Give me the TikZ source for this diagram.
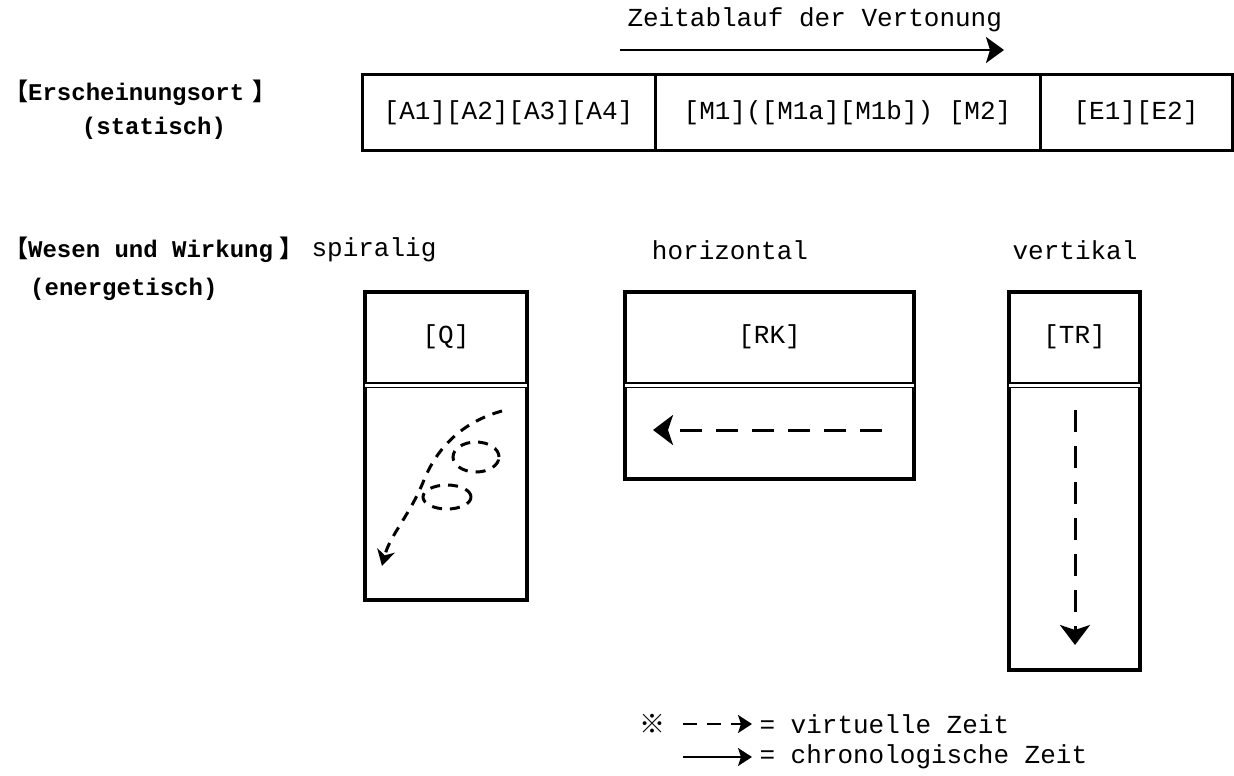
\documentclass[tikz,border=0pt]{standalone}
\usepackage{fontspec}
\setmainfont{Liberation Mono}
\newfontfamily\cjk{Noto Sans CJK JP}
\usetikzlibrary{positioning,arrows.meta}

\begin{document}
\begin{tikzpicture}[x=1pt, y=-1pt, node distance=0pt,
  every node/.style={font=\fontsize{26}{30}\selectfont},
  head/.style={font=\fontsize{24}{28}\selectfont\bfseries, anchor=west, inner sep=0pt},
  cell/.style={draw, line width=3pt, minimum height=75pt, inner sep=0pt, outer sep=0pt},
  col/.style={draw, line width=3.5pt, anchor=north west, inner sep=0pt, outer sep=0pt},
  sep/.style={double, double distance=3pt, line width=1.6pt},
  virt/.style={line width=3pt, dash pattern=on 22pt off 14pt, -{Stealth[length=20pt, width=30pt, inset=5pt]}},
  spir/.style={line width=3pt, dash pattern=on 10pt off 8pt},
  chrono/.style={line width=2.4pt, -{Stealth[length=18pt, width=26pt, inset=4pt]}},
  legv/.style={line width=2.4pt, dash pattern=on 14pt off 10pt, -{Stealth[length=14pt, width=18pt, inset=3pt]}},
  legc/.style={line width=2pt, -{Stealth[length=14pt, width=18pt, inset=3pt]}}]
\useasboundingbox (0,0) rectangle (1234,776);

% time line on top
\node[anchor=west] (title) at (624,20) {Zeitablauf der Vertonung};
\coordinate (t0) at (620,50);
\coordinate (t1) at (1004,50);
\draw[chrono] (t0) -- (t1);

% static row
\node[head] (ort) at (4,93) {{\cjk 【}Erscheinungsort\hspace{8pt}{\cjk 】}\hspace{-14pt}};
\node[head, anchor=center] (stat) at (154,128) {(statisch)};
\node[cell, minimum width=293pt] (a) at (508.5,112.5) {[A1][A2][A3][A4]};
\node[cell, minimum width=385pt, right=of a] (m) {[M1]([M1a][M1b]) [M2]};
\node[cell, minimum width=192pt, right=of m] (e) {[E1][E2]};

% energetic row
\node[head] (wesen) at (4,250) {{\cjk 【}Wesen und Wirkung\hspace{6pt}{\cjk 】}\hspace{-14pt}};
\node[head] (energ) at (30,289) {(energetisch)};
\node[inner sep=0pt] (spira) at (374,250) {spiralig};
\node (hori) at (730,250) {horizontal};
\node (vert) at (1075,250) {vertikal};

\node[col, minimum width=162pt, minimum height=308pt] (qbox) at (365,292) {};
\node[col, minimum width=289pt, minimum height=187pt] (rkbox) at (625,292) {};
\node[col, minimum width=131pt, minimum height=378pt] (trbox) at (1009,292) {};

\node (q) at (qbox.north |- 0,337) {[Q]};
\node (rk) at (rkbox.north |- 0,337) {[RK]};
\node (tr) at (trbox.north |- 0,337) {[TR]};

\draw[sep] ([yshift=-93pt]qbox.north west) -- ([yshift=-93pt]qbox.north east);
\draw[sep] ([yshift=-93pt]rkbox.north west) -- ([yshift=-93pt]rkbox.north east);
\draw[sep] ([yshift=-93pt]trbox.north west) -- ([yshift=-93pt]trbox.north east);

% spiral
\coordinate (s0) at (502,411);
\coordinate (s1) at (424,480);
\coordinate (s2) at (382,566);
\draw[spir, -{Stealth[length=16pt, width=18pt, inset=5pt]}] (s0) .. controls (462,422) and (437,448) .. (s1)
  .. controls (410,515) and (390,535) .. (s2);
\draw[spir] (476,457) ellipse [x radius=23pt, y radius=15pt];
\draw[spir] (447,497) ellipse [x radius=24pt, y radius=12pt];

% horizontal and vertical
\coordinate (rk0) at (882,430);
\coordinate (rk1) at (653,430);
\draw[virt] (rk0) -- (rk1);
\coordinate (tr0) at (1075,410);
\coordinate (tr1) at (1075,645);
\draw[virt] (tr0) -- (tr1);

% legend
\node (mark) at (652,724) {{\cjk ※}};
\coordinate (v0) at (683,724);
\coordinate (v1) at (752,724);
\draw[legv] (v0) -- (v1);
\node[anchor=west] (vlab) at (756,724) {= virtuelle Zeit};
\coordinate (c0) at (683,757);
\coordinate (c1) at (752,757);
\draw[legc] (c0) -- (c1);
\node[anchor=west] (clab) at (756,757) {= chronologische Zeit};
\end{tikzpicture}
\end{document}
